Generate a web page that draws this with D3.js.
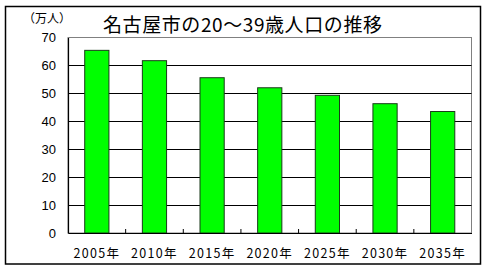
<!DOCTYPE html>
<html>
<head>
<meta charset="utf-8">
<script src="https://cdn.jsdelivr.net/npm/d3@7"></script>
<style>
  body { margin: 0; background: #fff; }
  text { font-family: "Noto Sans CJK JP", "DejaVu Sans", sans-serif; fill: #000; }
</style>
</head>
<body>
<svg id="chart" width="485" height="270"></svg>
<script>
const years = ['2005年', '2010年', '2015年', '2020年', '2025年', '2030年', '2035年'];
const population = [65.4, 61.7, 55.6, 52.0, 49.3, 46.3, 43.5];
const yTicks = [0, 10, 20, 30, 40, 50, 60, 70];

const width = 485;
const height = 270;
const plot = { left: 68, right: 471.5, top: 37.5, bottom: 233 };

const svg = d3.select('#chart');

// outer frame
svg.append('rect')
  .attr('x', 5.5).attr('y', 6.5)
  .attr('width', 475).attr('height', 257.5)
  .attr('fill', '#fff')
  .attr('stroke', '#000')
  .attr('stroke-width', 1.5);

const x = d3.scaleBand()
  .domain(years)
  .range([plot.left, plot.right])
  .paddingInner(0.58)
  .paddingOuter(0.29);

const y = d3.scaleLinear()
  .domain([0, 70])
  .range([plot.bottom, plot.top]);

// plot area border (gray top/right)
svg.append('rect')
  .attr('x', plot.left).attr('y', plot.top)
  .attr('width', plot.right - plot.left)
  .attr('height', plot.bottom - plot.top)
  .attr('fill', '#fff')
  .attr('stroke', '#808080')
  .attr('stroke-width', 1);

// grid lines
svg.selectAll('.grid')
  .data(yTicks.filter(d => d > 0 && d < 70))
  .enter()
  .append('line')
  .attr('x1', plot.left).attr('x2', plot.right)
  .attr('y1', d => Math.round(y(d)) + 0.5)
  .attr('y2', d => Math.round(y(d)) + 0.5)
  .attr('stroke', '#000')
  .attr('stroke-width', 1);

// bars
svg.selectAll('.bar')
  .data(population)
  .enter()
  .append('rect')
  .attr('x', (d, i) => x(years[i]))
  .attr('y', d => y(d))
  .attr('width', x.bandwidth())
  .attr('height', d => plot.bottom - y(d))
  .attr('fill', '#00ff00')
  .attr('stroke', '#1a3a1a')
  .attr('stroke-width', 1);

// y axis
const yAxis = d3.axisLeft(y).tickValues(yTicks).tickSize(0).tickPadding(12);
const gy = svg.append('g')
  .attr('transform', `translate(${plot.left},0)`)
  .call(yAxis);
gy.select('.domain').attr('stroke', '#000').attr('stroke-width', 1.2);
gy.selectAll('text')
  .style('font-size', '13px')
  .style('font-family', '"Liberation Sans", sans-serif')
  .attr('fill', '#222');

// x axis with inside ticks at category boundaries
const xAxis = d3.axisBottom(x).tickSize(0).tickPadding(16);
const gx = svg.append('g')
  .attr('transform', `translate(0,${plot.bottom})`)
  .call(xAxis);
gx.select('.domain').attr('stroke', '#000').attr('stroke-width', 1.2);
gx.selectAll('text')
  .style('font-size', '12.5px')
  .style('letter-spacing', '1.3px')
  .attr('fill', '#222');

const step = x.step();
svg.selectAll('.xtick')
  .data(years.slice(1))
  .enter()
  .append('line')
  .attr('x1', d => x(d) - x.paddingInner() * step / 2)
  .attr('x2', d => x(d) - x.paddingInner() * step / 2)
  .attr('y1', plot.bottom - 4)
  .attr('y2', plot.bottom)
  .attr('stroke', '#000');

// unit label
svg.append('text')
  .attr('x', 47).attr('y', 23)
  .attr('text-anchor', 'middle')
  .style('font-size', '12px')
  .attr('fill', '#222')
  .text('（万人）');

// title
svg.append('text')
  .attr('x', 103).attr('y', 32)
  .attr('textLength', 279)
  .style('font-size', '19px')
  .text('名古屋市の20〜39歳人口の推移');
</script>
</body>
</html>
